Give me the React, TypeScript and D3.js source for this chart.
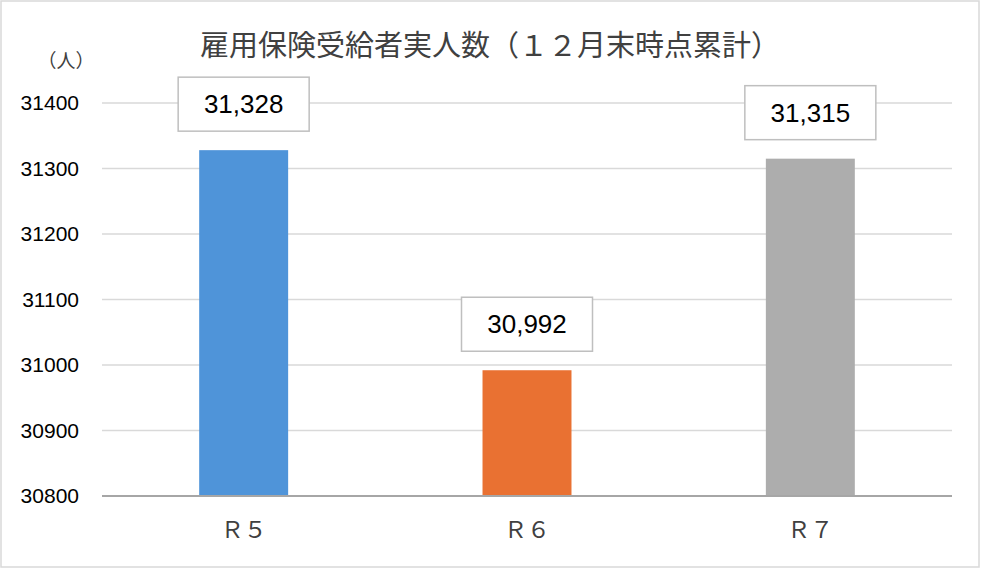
import React from "react";
import * as d3 from "d3";

const categories = ["Ｒ５", "Ｒ６", "Ｒ７"];
const values = [31328, 30992, 31315];
const valueLabels = ["31,328", "30,992", "31,315"];
const barColors = ["#4F94D9", "#E97132", "#ADADAD"];
const yTicks = [30800, 30900, 31000, 31100, 31200, 31300, 31400];
const title = "雇用保険受給者実人数（１２月末時点累計）";
const unitLabel = "（人）";

const W = 981;
const H = 570;
const plotLeft = 102;
const plotRight = 952;
const plotTop = 103;
const plotBottom = 496;

export default function App() {
  const x = d3.scaleBand<string>().domain(categories).range([plotLeft, plotRight]).padding(0);
  const y = d3.scaleLinear().domain([30800, 31400]).range([plotBottom, plotTop]);
  const barW = x.bandwidth() * 0.314;
  const boxW = 131;
  const boxH = 54;
  const gap = 19;
  const jp = "'Noto Sans CJK JP', 'Noto Sans', sans-serif";
  const lat = "'Liberation Sans', Arial, sans-serif";

  return (
    <svg width={W} height={H} style={{ position: "absolute", left: 0, top: 0 }}>
      <rect x={0} y={0} width={W} height={H} fill="#fff" />
      <rect x={1} y={1} width={978} height={566} fill="#fff" stroke="#d9d9d9" strokeWidth={1.5} />
      <text x={490} y={56} textAnchor="middle" fontFamily={jp} fontSize={29} fill="#404040">
        {title}
      </text>
      <text x={66} y={68} textAnchor="middle" fontFamily={jp} fontSize={19} fill="#404040">
        {unitLabel}
      </text>
      {yTicks.map((t) => (
        <g key={t}>
          <line
            x1={plotLeft}
            x2={plotRight}
            y1={y(t)}
            y2={y(t)}
            stroke={t === 30800 ? "#a6a6a6" : "#d9d9d9"}
            strokeWidth={t === 30800 ? 2 : 1.5}
          />
          <text x={79} y={y(t)} dy="0.35em" textAnchor="end" fontFamily={lat} fontSize={21} fill="#000">
            {t}
          </text>
        </g>
      ))}
      {categories.map((c, i) => {
        const cx = (x(c) as number) + x.bandwidth() / 2;
        const top = y(values[i]);
        const by = top - gap - boxH;
        return (
          <g key={c}>
            <rect x={cx - barW / 2} y={top} width={barW} height={plotBottom - top - 1} fill={barColors[i]} />
            <rect x={cx - boxW / 2} y={by} width={boxW} height={boxH} fill="#fff" stroke="#bfbfbf" strokeWidth={1.5} />
            <text x={cx} y={by + boxH / 2} dy="0.35em" textAnchor="middle" fontFamily={lat} fontSize={26} fill="#000">
              {valueLabels[i]}
            </text>
            <text x={cx} y={538} textAnchor="middle" fontFamily={jp} fontSize={23} fill="#404040">
              {c}
            </text>
          </g>
        );
      })}
    </svg>
  );
}
